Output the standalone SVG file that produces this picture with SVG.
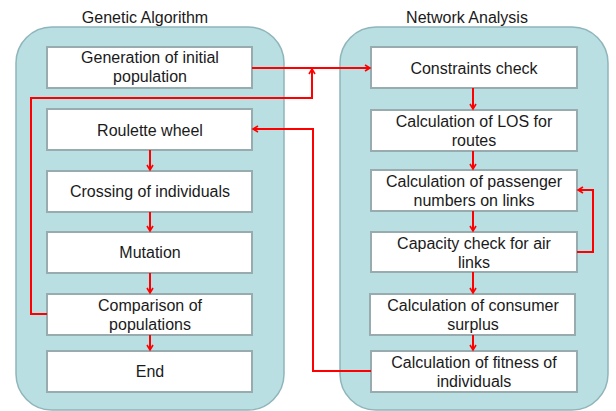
<svg xmlns="http://www.w3.org/2000/svg" width="616" height="411" viewBox="0 0 616 411">
<style>
.panel{fill:#b9dfe2;stroke:#8fb5bb;stroke-width:1.5}
.box{fill:#ffffff;stroke:#98abaf;stroke-width:2}
text{font-family:"Liberation Sans",Arial,sans-serif;font-size:16px;fill:#1a1a1a;text-anchor:middle}
.c{fill:none;stroke:#ff0000;stroke-width:2}
</style>
<defs>
<marker id="ah" markerWidth="8" markerHeight="8" refX="6" refY="4" orient="auto" markerUnits="userSpaceOnUse">
<path d="M1,1 L6,4 L1,7" fill="none" stroke="#ff0000" stroke-width="1.6"/>
</marker>
</defs>
<rect width="616" height="411" fill="#ffffff"/>
<g id="panel-ga">
<rect class="panel" x="16" y="27" width="268" height="383" rx="36"/>
<text x="145" y="23">Genetic Algorithm</text>
</g>
<g id="panel-na">
<rect class="panel" x="340" y="27" width="268" height="383" rx="36"/>
<text x="467" y="23">Network Analysis</text>
</g>
<g id="n-gen"><rect class="box" x="47" y="47" width="205" height="41"/><text x="150" y="63">Generation of initial</text><text x="150" y="82">population</text></g>
<g id="n-roulette"><rect class="box" x="47" y="109" width="205" height="41"/><text x="150" y="136">Roulette wheel</text></g>
<g id="n-crossing"><rect class="box" x="47" y="171" width="205" height="41"/><text x="150" y="197">Crossing of individuals</text></g>
<g id="n-mutation"><rect class="box" x="47" y="232" width="205" height="41"/><text x="150" y="258">Mutation</text></g>
<g id="n-comparison"><rect class="box" x="47" y="294" width="205" height="41"/><text x="150" y="311">Comparison of</text><text x="150" y="330">populations</text></g>
<g id="n-end"><rect class="box" x="47" y="351" width="205" height="41"/><text x="150" y="377">End</text></g>
<g id="n-constraints"><rect class="box" x="371" y="47" width="206" height="41"/><text x="474" y="74">Constraints check</text></g>
<g id="n-los"><rect class="box" x="371" y="110" width="206" height="41"/><text x="474" y="127">Calculation of LOS for</text><text x="474" y="146">routes</text></g>
<g id="n-passenger"><rect class="box" x="371" y="170" width="206" height="41"/><text x="474" y="187">Calculation of passenger</text><text x="474" y="206">numbers on links</text></g>
<g id="n-capacity"><rect class="box" x="371" y="232" width="206" height="40"/><text x="474" y="249">Capacity check for air</text><text x="474" y="268">links</text></g>
<g id="n-consumer"><rect class="box" x="370" y="294" width="205" height="41"/><text x="473" y="311">Calculation of consumer</text><text x="473" y="330">surplus</text></g>
<g id="n-fitness"><rect class="box" x="371" y="351" width="206" height="41"/><text x="474" y="368">Calculation of fitness of</text><text x="474" y="387">individuals</text></g>
<g id="connectors">
<path class="c" d="M252,68 H370" marker-end="url(#ah)"/>
<path class="c" d="M47,314 H31 V98 H312 V69" marker-end="url(#ah)"/>
<path class="c" d="M371,371 H313 V129 H253" marker-end="url(#ah)"/>
<path class="c" d="M577,252 H593 V190 H578" marker-end="url(#ah)"/>
<path class="c" d="M150,150 V170" marker-end="url(#ah)"/>
<path class="c" d="M150,212 V231" marker-end="url(#ah)"/>
<path class="c" d="M150,273 V293" marker-end="url(#ah)"/>
<path class="c" d="M150,335 V350" marker-end="url(#ah)"/>
<path class="c" d="M473,88 V109" marker-end="url(#ah)"/>
<path class="c" d="M473,151 V169" marker-end="url(#ah)"/>
<path class="c" d="M473,211 V231" marker-end="url(#ah)"/>
<path class="c" d="M473,272 V293" marker-end="url(#ah)"/>
<path class="c" d="M473,335 V350" marker-end="url(#ah)"/>
</g>
</svg>
